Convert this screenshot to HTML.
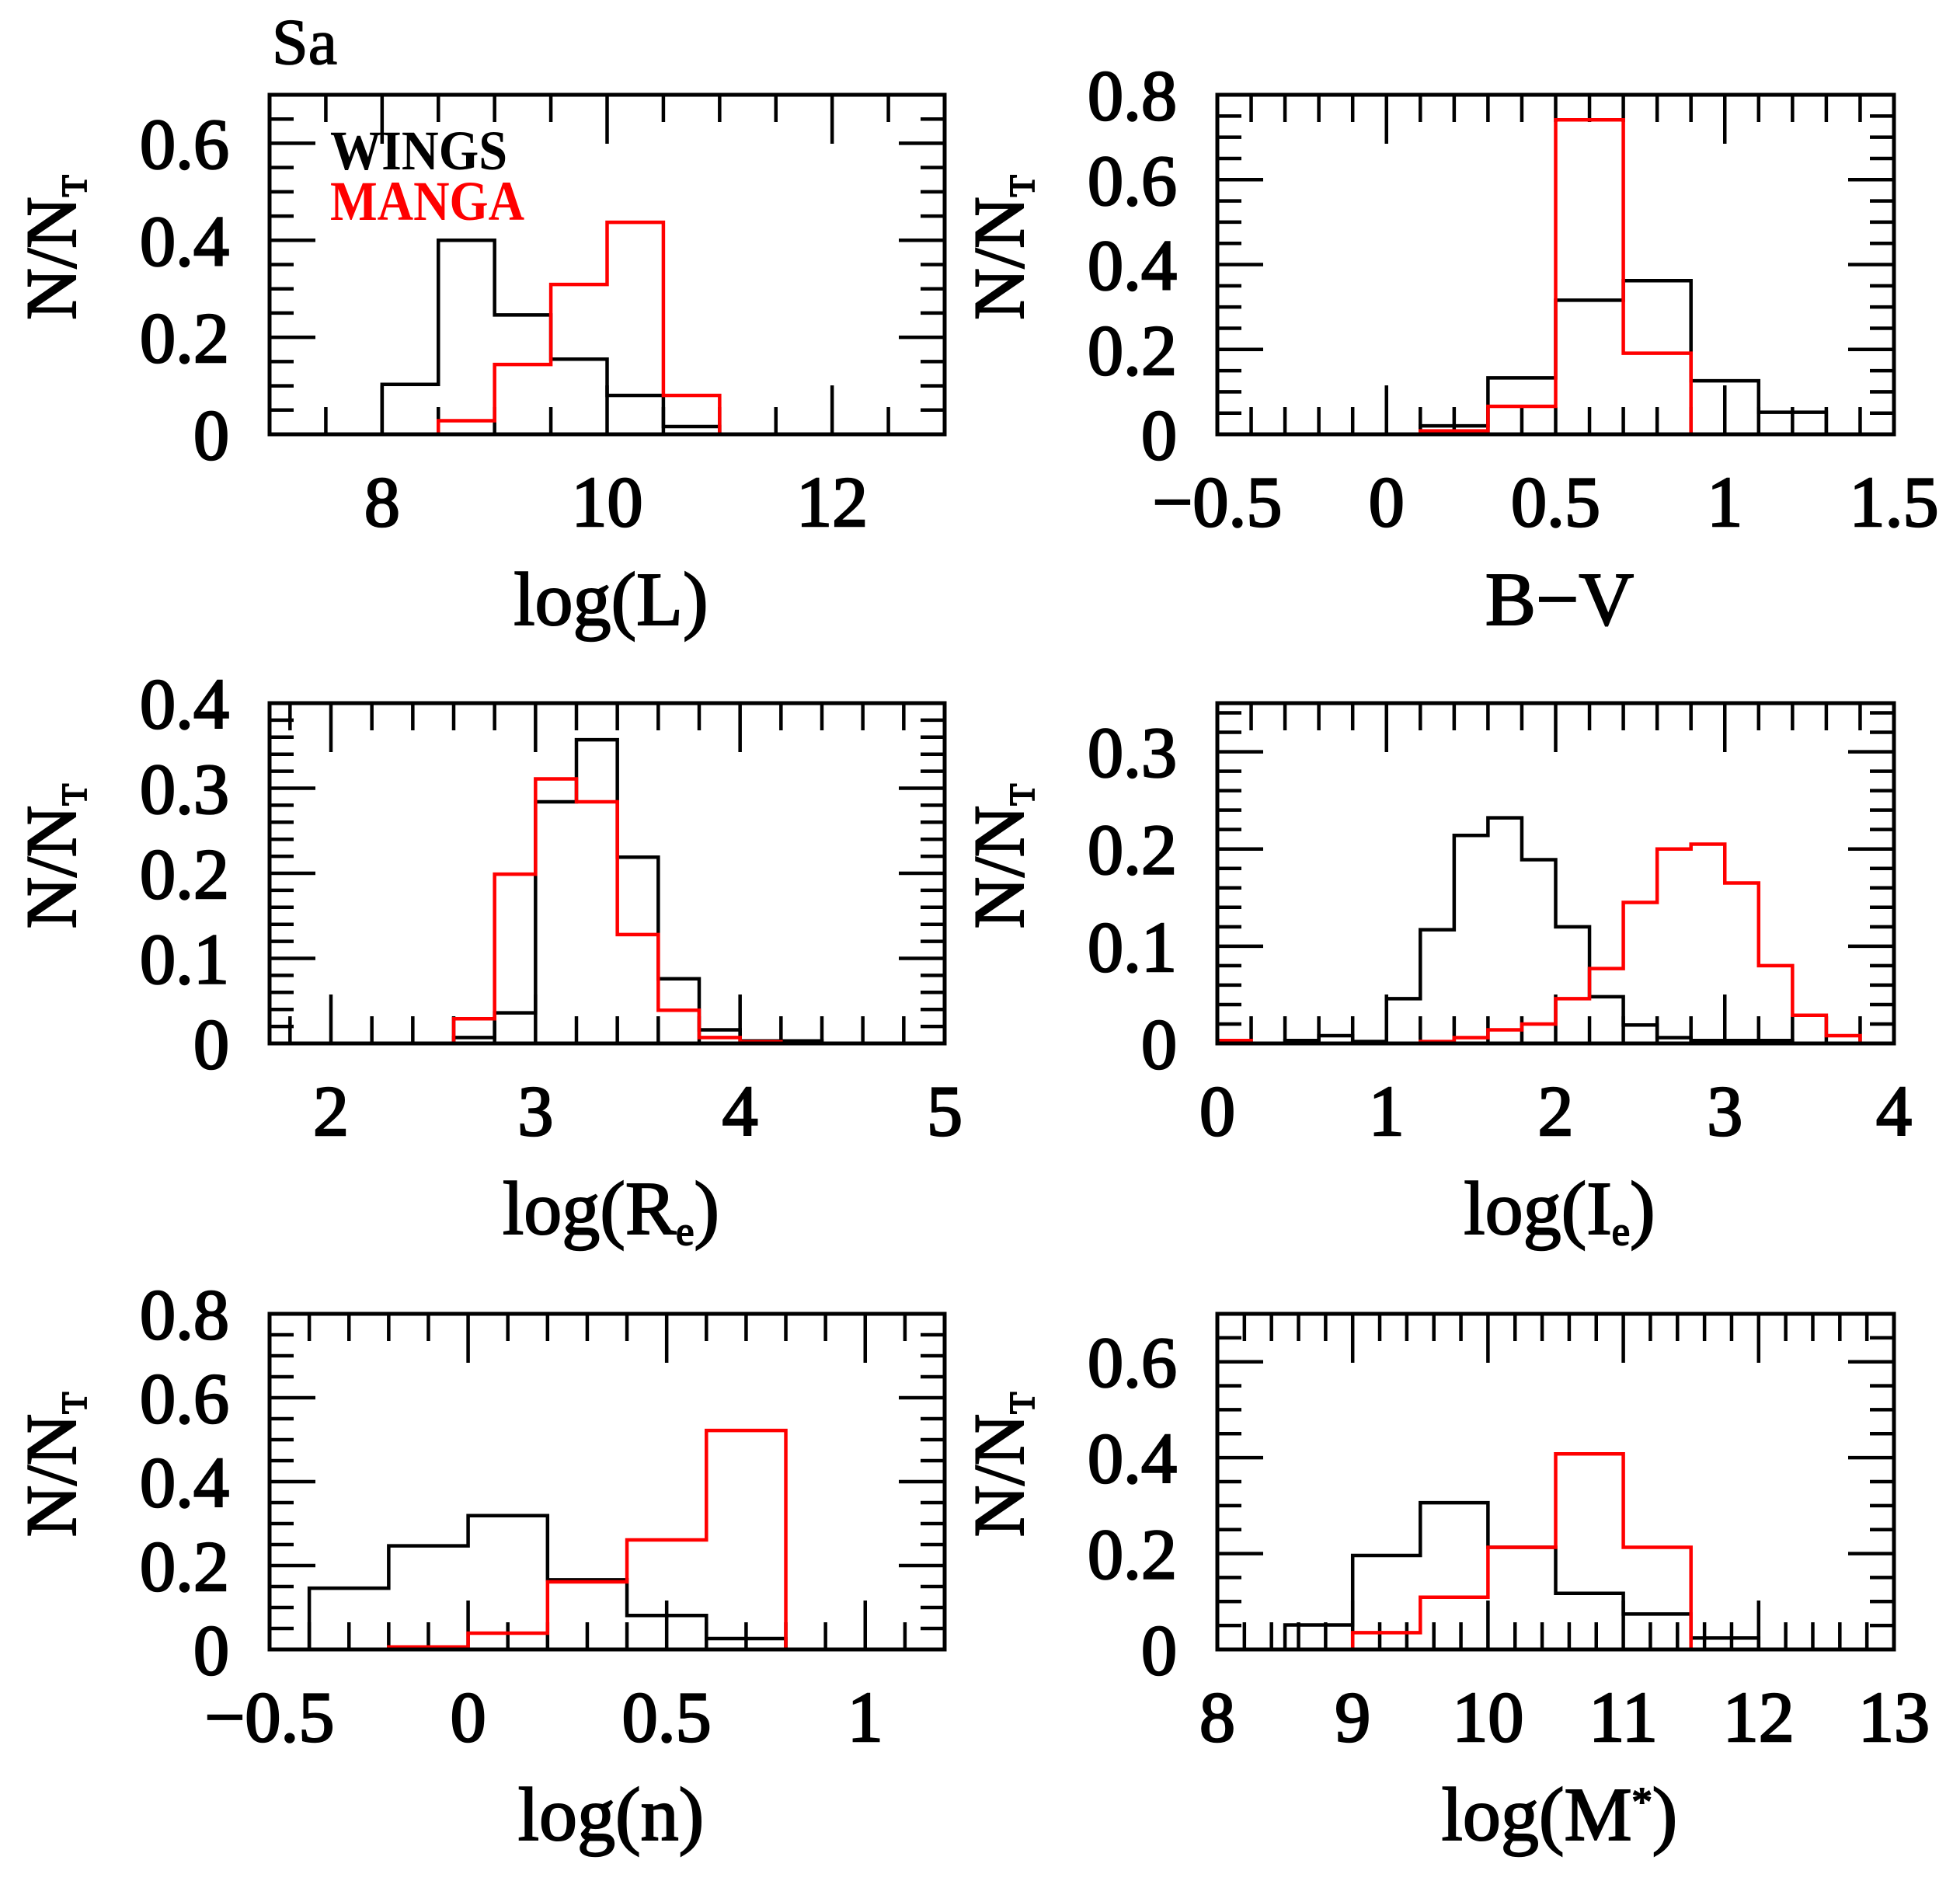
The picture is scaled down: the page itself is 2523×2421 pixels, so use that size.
<!DOCTYPE html>
<html><head><meta charset="utf-8"><style>
html,body{margin:0;padding:0;background:#fff;}
svg{display:block;}
text{font-family:"Liberation Serif",serif;}
</style></head><body>
<svg id="fig" width="2523" height="2421" viewBox="0 0 2523 2421" xmlns="http://www.w3.org/2000/svg">
<text x="350" y="82" font-size="84" stroke="#000" stroke-width="1.5">Sa</text>
</svg>
<script>
// ---- data ----
const lumEdgeStart = 8.0, lumBinW = 0.5;
const lumWings = [0.103, 0.40, 0.246, 0.155, 0.08, 0.016];
const lumManga = [0, 0.028, 0.144, 0.309, 0.437, 0.08];
const lumXTicks = [8, 10, 12];
const lumYTicks = [0, 0.2, 0.4, 0.6];

const bvEdgeStart = 0.1, bvBinW = 0.2;
const bvWings = [0.02, 0.133, 0.316, 0.362, 0.126, 0.052];
const bvManga = [0.008, 0.066, 0.741, 0.191, 0, 0];
const bvXTicks = [-0.5, 0, 0.5, 1, 1.5];
const bvYTicks = [0, 0.2, 0.4, 0.6, 0.8];

const reEdgeStart = 2.6, reBinW = 0.2;
const reWings = [0.007, 0.036, 0.284, 0.357, 0.219, 0.076, 0.016, 0.003, 0.003];
const reManga = [0.029, 0.199, 0.311, 0.284, 0.128, 0.039, 0.007, 0.002, 0];
const reXTicks = [2, 3, 4, 5];
const reYTicks = [0, 0.1, 0.2, 0.3, 0.4];

const ieEdgeStart = 0.0, ieBinW = 0.2;
const ieWings = [0, 0, 0.003, 0.008, 0.002, 0.046, 0.117, 0.214, 0.232, 0.189, 0.12, 0.048, 0.019, 0.006, 0.003, 0.003, 0.003, 0, 0, 0];
const ieManga = [0.003, 0, 0, 0, 0, 0, 0.002, 0.006, 0.014, 0.02, 0.046, 0.077, 0.145, 0.2, 0.205, 0.165, 0.08, 0.029, 0.008, 0];
const ieXTicks = [0, 1, 2, 3, 4];
const ieYTicks = [0, 0.1, 0.2, 0.3];

const nEdgeStart = -0.4, nBinW = 0.2;
const nWings = [0.146, 0.247, 0.319, 0.166, 0.081, 0.026];
const nManga = [0, 0.006, 0.039, 0.161, 0.261, 0.522];
const nXTicks = [-0.5, 0, 0.5, 1];
const nYTicks = [0, 0.2, 0.4, 0.6, 0.8];

const mEdgeStart = 8.5, mBinW = 0.5;
const mWings = [0.051, 0.196, 0.306, 0.213, 0.117, 0.074, 0.024];
const mManga = [0, 0.035, 0.109, 0.213, 0.408, 0.213, 0];
const mXTicks = [8, 9, 10, 11, 12, 13];
const mYTicks = [0, 0.2, 0.4, 0.6];

// ---- layout ----
const NS = "http://www.w3.org/2000/svg";
const svg = document.getElementById('fig');
const LX = [347, 1216], RX = [1567, 2438];
const R1 = [122, 559], R2 = [905, 1343], R3 = [1691, 2123];

function mk(tag, attrs, parent) {
  const e = document.createElementNS(NS, tag);
  for (const k in attrs) e.setAttribute(k, attrs[k]);
  (parent || svg).appendChild(e);
  return e;
}
function fmt(v) {
  let s = String(Math.round(v * 1000) / 1000);
  if (s.startsWith('-')) s = '\u2212' + s.slice(1);
  return s;
}

function panel(cfg) {
  const g = mk('g', {});
  
  
  const [x0, x1] = cfg.px, [y0, y1] = cfg.py;
  const sx = v => x0 + (v - cfg.xmin) / (cfg.xmax - cfg.xmin) * (x1 - x0);
  const sy = v => y1 - v / cfg.ymax * (y1 - y0);
  const tg = mk('g', {stroke: '#000', 'stroke-width': 4.5}, g);
  
  
  const xstart = Math.ceil(cfg.xmin / cfg.xminor - 1e-6) * cfg.xminor;
  for (let v = xstart; v <= cfg.xmax + 1e-6; v += cfg.xminor) {
    const isMaj = cfg.xlong.some(m => Math.abs(m - v) < 1e-6);
    const L = isMaj ? 63 : 35, X = sx(v);
    mk('line', {x1: X, y1: y1, x2: X, y2: y1 - L}, tg);
    mk('line', {x1: X, y1: y0, x2: X, y2: y0 + L}, tg);
  }
  for (let v = 0; v <= cfg.ymax + 1e-6; v += cfg.yminor) {
    const k = v / cfg.ymajor;
    const isMaj = Math.abs(k - Math.round(k)) < 1e-4;
    const L = isMaj ? 59 : 31, Y = sy(v);
    mk('line', {x1: x0, y1: Y, x2: x0 + L, y2: Y}, tg);
    mk('line', {x1: x1, y1: Y, x2: x1 - L, y2: Y}, tg);
  }
  function hist(vals, color, nm) {
    let d = 'M' + sx(cfg.xmin) + ',' + sy(0) + ' L' + sx(cfg.start) + ',' + sy(0);
    vals.forEach((v, i) => {
      const a = cfg.start + i * cfg.bw, b = a + cfg.bw;
      d += ' L' + sx(a) + ',' + sy(v) + ' L' + sx(b) + ',' + sy(v);
    });
    const end = cfg.start + vals.length * cfg.bw;
    d += ' L' + sx(end) + ',' + sy(0) + ' L' + sx(cfg.xmax) + ',' + sy(0);
    const p = mk('path', {d: d, fill: 'none', stroke: color, 'stroke-width': 4.5}, g);
    
    
  }
  hist(cfg.wings, '#000', cfg.name + '-wings-hist');
  hist(cfg.manga, '#f00', cfg.name + '-manga-hist');
  const fr = mk('rect', {x: x0, y: y0, width: x1 - x0, height: y1 - y0, fill: 'none', stroke: '#000', 'stroke-width': 5}, g);
  
  
  cfg.xt.forEach(v => {
    const t = mk('text', {x: sx(v), y: y1 + 118, 'font-size': 92, 'text-anchor': 'middle', stroke: '#000', 'stroke-width': 2.5}, g);
    
    
    t.textContent = fmt(v);
  });
  cfg.yt.forEach(v => {
    const t = mk('text', {x: x0 - 52, y: sy(v) + 32, 'font-size': 92, 'text-anchor': 'end', stroke: '#000', 'stroke-width': 2.5}, g);
    
    
    t.textContent = fmt(v);
  });
  const xt = mk('text', {x: (x0 + x1) / 2 + 5, y: y1 + 245, 'font-size': 98, 'text-anchor': 'middle', stroke: '#000', 'stroke-width': 2}, g);
  
  
  xt.innerHTML = cfg.title;
  const cy = (y0 + y1) / 2 - 22, cx = x0 - 280;
  const yt = mk('text', {x: cx, y: cy + 30, 'font-size': 92, 'text-anchor': 'middle', stroke: '#000', 'stroke-width': 2, transform: 'rotate(-90 ' + cx + ' ' + cy + ')'}, g);
  
  
  yt.innerHTML = 'N/N<tspan font-size="46" dy="14">T</tspan>';
}

panel({name: 'log-l', px: LX, py: R1, xmin: 7, xmax: 13, ymax: 0.7, xminor: 0.5, xlong: [8, 10, 12], yminor: 0.05, ymajor: 0.2,
  start: lumEdgeStart, bw: lumBinW, wings: lumWings, manga: lumManga, xt: lumXTicks, yt: lumYTicks, title: 'log(L)'});
panel({name: 'b-v', px: RX, py: R1, xmin: -0.5, xmax: 1.5, ymax: 0.8, xminor: 0.1, xlong: [0, 1], yminor: 0.05, ymajor: 0.2,
  start: bvEdgeStart, bw: bvBinW, wings: bvWings, manga: bvManga, xt: bvXTicks, yt: bvYTicks, title: 'B\u2212V'});
panel({name: 'log-re', px: LX, py: R2, xmin: 1.7, xmax: 5, ymax: 0.4, xminor: 0.2, xlong: [2, 3, 4], yminor: 0.02, ymajor: 0.1,
  start: reEdgeStart, bw: reBinW, wings: reWings, manga: reManga, xt: reXTicks, yt: reYTicks, title: 'log(R<tspan font-size="52" dy="14">e</tspan><tspan dy="-14">)</tspan>'});
panel({name: 'log-ie', px: RX, py: R2, xmin: 0, xmax: 4, ymax: 0.35, xminor: 0.2, xlong: [1, 2, 3], yminor: 0.02, ymajor: 0.1,
  start: ieEdgeStart, bw: ieBinW, wings: ieWings, manga: ieManga, xt: ieXTicks, yt: ieYTicks, title: 'log(I<tspan font-size="52" dy="14">e</tspan><tspan dy="-14">)</tspan>'});
panel({name: 'log-n', px: LX, py: R3, xmin: -0.5, xmax: 1.2, ymax: 0.8, xminor: 0.1, xlong: [0, 0.5, 1], yminor: 0.05, ymajor: 0.2,
  start: nEdgeStart, bw: nBinW, wings: nWings, manga: nManga, xt: nXTicks, yt: nYTicks, title: 'log(n)'});
panel({name: 'log-mstar', px: RX, py: R3, xmin: 8, xmax: 13, ymax: 0.7, xminor: 0.2, xlong: [9, 10, 11, 12], yminor: 0.05, ymajor: 0.2,
  start: mEdgeStart, bw: mBinW, wings: mWings, manga: mManga, xt: mXTicks, yt: mYTicks, title: 'log(M<tspan font-size="52" dy="-32">*</tspan><tspan dy="32">)</tspan>'});

const lw = mk('text', {x: 425, y: 218, 'font-size': 72, 'font-weight': 'bold', textLength: 228, lengthAdjust: 'spacingAndGlyphs', fill: '#000'});


lw.textContent = 'WINGS';
const lm = mk('text', {x: 425, y: 283, 'font-size': 72, 'font-weight': 'bold', textLength: 250, lengthAdjust: 'spacingAndGlyphs', fill: '#f00'});


lm.textContent = 'MANGA';
</script>
</body></html>
